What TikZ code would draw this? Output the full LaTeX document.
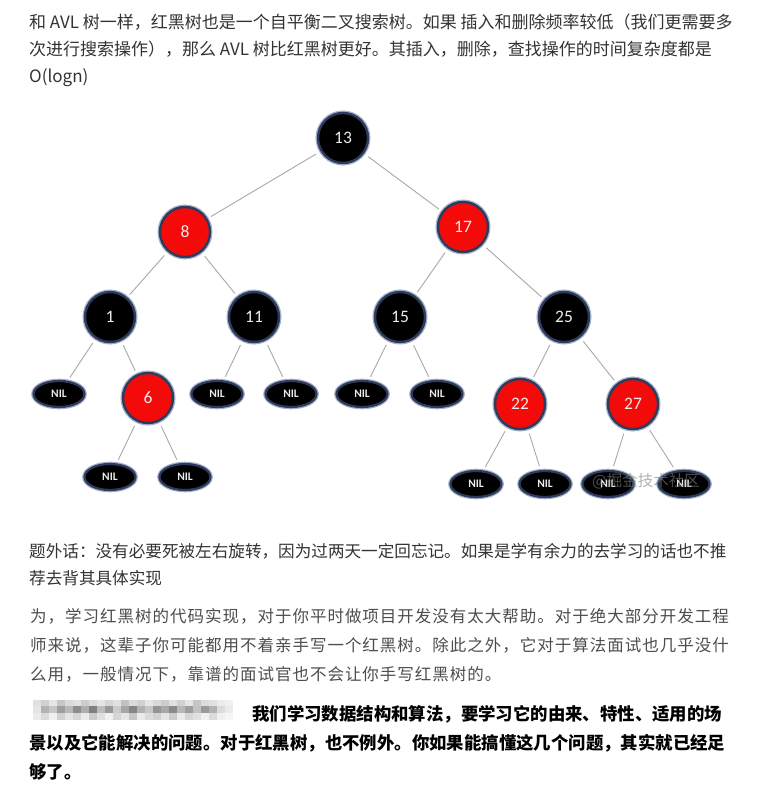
\documentclass[tikz,border=0pt]{standalone}
\usepackage{fontspec}
\usetikzlibrary{shapes.geometric}
\newfontfamily\cjk{Noto Sans CJK SC}
\newfontfamily\cjksp[LetterSpace=6]{Noto Sans CJK SC}
\newfontfamily\numf{Carlito}
\definecolor{nodeborder}{HTML}{2E3B5C}
\definecolor{halo}{HTML}{A3B0C9}
\definecolor{rbred}{HTML}{F50A0A}
\definecolor{edgegray}{HTML}{A8A8A8}
\definecolor{txtA}{HTML}{333333}
\definecolor{txtB}{HTML}{4D4D4D}
\definecolor{numtxt}{HTML}{ECECEC}
\tikzset{
  rbnode/.style={circle, minimum size=50pt, inner sep=0pt, draw=nodeborder, line width=2.4pt,
    text=numtxt, font=\numf\fontsize{17.5}{17.5}\selectfont, preaction={draw=halo, line width=5pt}},
  blk/.style={rbnode, fill=black},
  redn/.style={rbnode, fill=rbred},
  nilnode/.style={ellipse, minimum width=51pt, minimum height=26pt, inner sep=0pt, fill=black,
    draw=nodeborder, line width=2.2pt, preaction={draw=halo, line width=4.6pt},
    text=numtxt, font=\numf\bfseries\fontsize{11.5}{11.5}\selectfont},
  treeline/.style={draw=edgegray, line width=0.9pt, shorten <=5pt, shorten >=4pt},
  txttop/.style={anchor=base west, inner sep=0pt, text=txtA, font=\cjk\fontsize{17}{17}\selectfont},
  txtside/.style={anchor=base west, inner sep=0pt, text=txtA, font=\cjk\fontsize{16.6}{16.6}\selectfont},
  txtgray/.style={anchor=base west, inner sep=0pt, text=txtB, font=\cjksp\fontsize{16.5}{16.5}\selectfont},
  txtbold/.style={anchor=base west, inner sep=0pt, text=black, font=\cjk\bfseries\fontsize{17.4}{17.4}\selectfont},
}
\begin{document}
\begin{tikzpicture}[x=1pt,y=-1pt]
\useasboundingbox (0,0) rectangle (768,794);
\fill[white] (0,0) rectangle (768,794);

% top text
\node[txttop] (t1) at (29,28.5) {和 AVL 树一样，红黑树也是一个自平衡二叉搜索树。如果 插入和删除频率较低（我们更需要多};
\node[txttop] (t2) at (29,55.5) {次进行搜索操作），那么 AVL 树比红黑树更好。其插入，删除，查找操作的时间复杂度都是};
\node[txttop] (t3) at (29,82.5) {O(logn)};

% tree nodes
\node[blk]  (n13) at (343,138) {13};
\node[redn] (n8)  at (185,232) {8};
\node[redn] (n17) at (463,227) {17};
\node[blk]  (n1)  at (110,317) {1};
\node[blk]  (n11) at (254,317) {11};
\node[blk]  (n15) at (400,317) {15};
\node[blk]  (n25) at (564,317) {25};
\node[nilnode] (l1)  at (59,394) {NIL};
\node[redn]    (n6)  at (148,398) {6};
\node[nilnode] (l11a) at (217,394) {NIL};
\node[nilnode] (l11b) at (291,394) {NIL};
\node[nilnode] (l15a) at (362,394) {NIL};
\node[nilnode] (l15b) at (437,394) {NIL};
\node[redn]    (n22) at (520,404) {22};
\node[redn]    (n27) at (633,404) {27};
\node[nilnode] (l6a) at (110,477) {NIL};
\node[nilnode] (l6b) at (185,477) {NIL};
\node[nilnode] (l22a) at (476,484) {NIL};
\node[nilnode] (l22b) at (545,484) {NIL};
\node[nilnode] (l27a) at (608,484) {NIL};
\node[nilnode] (l27b) at (684,484) {NIL};

% edges
\draw[treeline] (n13) -- (n8);
\draw[treeline] (n13) -- (n17);
\draw[treeline] (n8) -- (n1);
\draw[treeline] (n8) -- (n11);
\draw[treeline] (n17) -- (n15);
\draw[treeline] (n17) -- (n25);
\draw[treeline] (n1) -- (l1);
\draw[treeline] (n1) -- (n6);
\draw[treeline] (n11) -- (l11a);
\draw[treeline] (n11) -- (l11b);
\draw[treeline] (n15) -- (l15a);
\draw[treeline] (n15) -- (l15b);
\draw[treeline] (n25) -- (n22);
\draw[treeline] (n25) -- (n27);
\draw[treeline] (n6) -- (l6a);
\draw[treeline] (n6) -- (l6b);
\draw[treeline] (n22) -- (l22a);
\draw[treeline] (n22) -- (l22b);
\draw[treeline] (n27) -- (l27a);
\draw[treeline] (n27) -- (l27b);

% watermark
\node[text=gray, opacity=0.6, font=\cjk\fontsize{15.5}{15.5}\selectfont] (wm) at (646,481) {@掘金技术社区};

% side remark
\node[txtside] (s1) at (29,557.5) {题外话：没有必要死被左右旋转，因为过两天一定回忘记。如果是学有余力的去学习的话也不推};
\node[txtside] (s2) at (29,584.5) {荐去背其具体实现};

% gray paragraph
\node[txtgray] (g1) at (30,622.5) {为，学习红黑树的代码实现，对于你平时做项目开发没有太大帮助。对于绝大部分开发工程};
\node[txtgray] (g2) at (30,651.5) {师来说，这辈子你可能都用不着亲手写一个红黑树。除此之外，它对于算法面试也几乎没什};
\node[txtgray] (g3) at (30,680.5) {么用，一般情况下，靠谱的面试官也不会让你手写红黑树的。};

% mosaic (blurred text)
\foreach \i/\s in {0/12,1/18,2/10,3/22,4/15,5/12,6/20,7/14,8/10,9/16,10/12,11/24,12/14,13/18,14/10,15/15,16/20,17/12,18/18,19/10,20/22,21/14,22/12,23/8,24/6}
  \fill[black!\s] (33+8*\i,700) rectangle ++(8,6);
\foreach \i/\s in {0/10,1/30,2/22,3/38,4/28,5/45,6/32,7/50,8/26,9/40,10/20,11/35,12/48,13/30,14/22,15/42,16/34,17/46,18/28,19/38,20/24,21/40,22/30,23/14,24/8}
  \fill[black!\s] (33+8*\i,706) rectangle ++(8,7);
\foreach \i/\s in {0/8,1/14,2/6,3/18,4/10,5/16,6/8,7/20,8/12,9/6,10/16,11/10,12/22,13/8,14/14,15/18,16/10,17/20,18/8,19/16,20/12,21/6,22/14,23/6,24/4}
  \fill[black!\s] (33+8*\i,713) rectangle ++(8,7);

% bold paragraph
\node[txtbold] (b1) at (252,720.5) {我们学习数据结构和算法，要学习它的由来、特性、适用的场};
\node[txtbold] (b2) at (29,749.5) {景以及它能解决的问题。对于红黑树，也不例外。你如果能搞懂这几个问题，其实就已经足};
\node[txtbold] (b3) at (29,778.5) {够了。};
\end{tikzpicture}
\end{document}
